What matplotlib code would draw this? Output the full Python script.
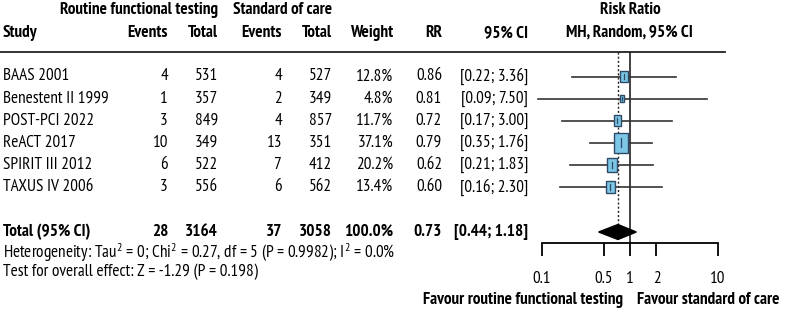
import numpy as np
import matplotlib
matplotlib.use("Agg")
import matplotlib.pyplot as plt
from matplotlib.patches import Rectangle, Polygon

plt.rcParams['font.family'] = ['PT Sans Narrow', 'DejaVu Sans']
plt.rcParams['mathtext.default'] = 'regular'

# 데이터
studies = ["BAAS 2001", "Benestent II 1999", "POST-PCI 2022", "ReACT 2017",
           "SPIRIT III 2012", "TAXUS IV 2006"]
ev_rft = [4, 1, 3, 10, 6, 3]
n_rft = [531, 357, 849, 349, 522, 556]
ev_soc = [4, 2, 4, 13, 7, 6]
n_soc = [527, 349, 857, 351, 412, 562]
weights = [12.8, 4.8, 11.7, 37.1, 20.2, 13.4]
rr = [0.86, 0.81, 0.72, 0.79, 0.62, 0.60]
ci_lo = [0.22, 0.09, 0.17, 0.35, 0.21, 0.16]
ci_hi = [3.36, 7.50, 3.00, 1.76, 1.83, 2.30]

tot_ev_rft, tot_n_rft, tot_ev_soc, tot_n_soc = 28, 3164, 37, 3058
tot_rr, tot_lo, tot_hi = 0.73, 0.44, 1.18
het_text = "Heterogeneity: Tau$^2$ = 0; Chi$^2$ = 0.27, df = 5 (P = 0.9982); I$^2$ = 0.0%"
eff_text = "Test for overall effect: Z = -1.29 (P = 0.198)"
ticks = [0.1, 0.5, 1, 2, 10]

W, H = 789, 312
fig = plt.figure(figsize=(W / 100, H / 100), dpi=100)

def fx(px):
    return px / W

def fy(py):
    return 1 - py / H

FS = 12.3

def txt(px, py, s, ha='left', bold=False, va='center'):
    fig.text(fx(px), fy(py), s, ha=ha, va=va, fontsize=FS,
             fontweight='bold' if bold else 'normal', color='black')

# 헤더
txt(218, 10, "Routine functional testing", ha='right', bold=True)
txt(332, 10, "Standard of care", ha='right', bold=True)
txt(630, 10, "Risk Ratio", ha='center', bold=True)
txt(3, 33, "Study", bold=True)
cols = [168, 218, 282, 332, 393, 442, 528]
heads = ["Events", "Total", "Events", "Total", "Weight", "RR", "95% CI"]
for x, h in zip(cols, heads):
    txt(x, 33, h, ha='right', bold=True)
txt(629, 33, "MH, Random, 95% CI", ha='center', bold=True)
fig.add_artist(plt.Line2D([fx(0), fx(725)], [fy(52), fy(52)], color='#222222', lw=1.3))

# 행
row_y = [76.5 + 22.1 * i for i in range(len(studies))]
for i, y in enumerate(row_y):
    txt(3, y, studies[i])
    vals = [str(ev_rft[i]), str(n_rft[i]), str(ev_soc[i]), str(n_soc[i]),
            "%.1f%%" % weights[i], "%.2f" % rr[i],
            "[%.2f; %.2f]" % (ci_lo[i], ci_hi[i])]
    for x, v in zip(cols, vals):
        txt(x, y, v, ha='right')

ty = 232
txt(3, ty, "Total (95% CI)", bold=True)
tvals = [str(tot_ev_rft), str(tot_n_rft), str(tot_ev_soc), str(tot_n_soc),
         "100.0%", "%.2f" % tot_rr, "[%.2f; %.2f]" % (tot_lo, tot_hi)]
for x, v in zip(cols, tvals):
    txt(x, ty, v, ha='right', bold=True)
txt(3, 253, het_text)
txt(3, 272, eff_text)

# 포레스트 축
x0, scale = 630, 88.0
def inv(px):
    return 10 ** ((px - x0) / scale)
left_px, right_px, top_px, bot_px = 530, 727, 52, 243
ax = fig.add_axes([fx(left_px), fy(bot_px), (right_px - left_px) / W, (bot_px - top_px) / H])
ax.set_xscale('log')
ax.set_xlim(inv(left_px), inv(right_px))
ax.set_ylim(bot_px, top_px)
ax.patch.set_alpha(0)
for s in ['top', 'right', 'left']:
    ax.spines[s].set_visible(False)
ax.spines['bottom'].set_bounds(0.1, 10)
ax.spines['bottom'].set_linewidth(1.3)
ax.set_yticks([])
ax.set_xticks(ticks)
ax.set_xticklabels(["0.1", "0.5", "1", "2", "10"])
ax.minorticks_off()
ax.tick_params(axis='x', length=9, width=1.3, pad=11, labelsize=FS)

ax.axvline(1, color='#222222', lw=1.2)
ax.plot([tot_rr, tot_rr], [top_px, ty - 8], color='#222222', lw=1, ls=(0, (1.5, 1.5)))

for i, y in enumerate(row_y):
    ax.plot([ci_lo[i], ci_hi[i]], [y, y], color='#333333', lw=1.2, zorder=2, clip_on=False)
    side = 13.5 * np.sqrt(weights[i] / 37.1)
    hgt = side * 1.45
    cx = x0 + scale * np.log10(rr[i])
    rect = Rectangle((inv(cx - side / 2), y - hgt / 2), inv(cx + side / 2) - inv(cx - side / 2), hgt,
                     facecolor='#7cc6e6', edgecolor='#2e4a66', lw=1, zorder=3)
    ax.add_patch(rect)
    ax.plot([rr[i], rr[i]], [y - hgt * 0.22, y + hgt * 0.22], color='#2e4a66', lw=0.9, zorder=4)

dia = Polygon([(tot_lo, ty), (tot_rr, ty - 7.5), (tot_hi, ty), (tot_rr, ty + 7.5)],
              closed=True, facecolor='black', edgecolor='black', zorder=4)
ax.add_patch(dia)

txt(623, 300, "Favour routine functional testing", ha='right', bold=True)
txt(637, 300, "Favour standard of care", ha='left', bold=True)

fig.savefig("out.png", dpi=100)
